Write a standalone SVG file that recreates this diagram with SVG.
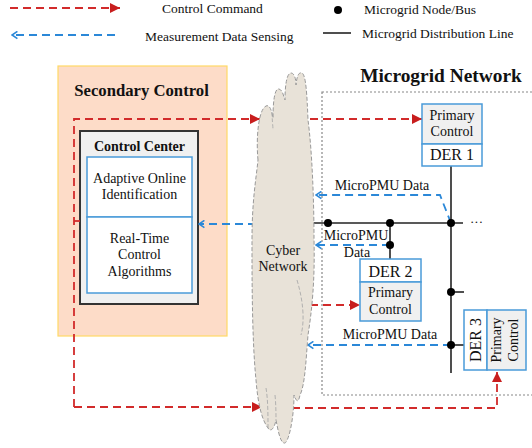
<svg xmlns="http://www.w3.org/2000/svg" width="532" height="448" viewBox="0 0 532 448">
  <style>
    text { font-family: "Liberation Serif", "DejaVu Serif", serif; fill: #111; }
    .b { font-weight: bold; }
    .ctl { fill: none; stroke: #D22B2B; stroke-width: 1.8; stroke-dasharray: 8 5; }
    .meas { fill: none; stroke: #2B88D8; stroke-width: 1.8; stroke-dasharray: 8 5; }
    .bus { fill: none; stroke: #222; stroke-width: 1.6; }
    .node { fill: #000; }
    .blu { stroke: #4A9BD9; stroke-width: 1.5; }
  </style>
  <defs>
    <marker id="redHead" viewBox="0 0 10 10" refX="10" refY="5" markerWidth="10" markerHeight="10" markerUnits="userSpaceOnUse" orient="auto">
      <path d="M0,0 L10,5 L0,10 Z" fill="#C81E1E"/>
    </marker>
    <marker id="blueHead" viewBox="0 0 10 10" refX="9" refY="5" markerWidth="9" markerHeight="9" markerUnits="userSpaceOnUse" orient="auto">
      <path d="M3,1 L9,5 L3,9" fill="none" stroke="#2B88D8" stroke-width="1.8"/>
    </marker>
  </defs>

  <!-- legend -->
  <g id="legend">
    <line class="ctl" x1="10" y1="8" x2="120" y2="8" marker-end="url(#redHead)"/>
    <text x="162" y="13" font-size="13.5">Control Command</text>
    <line class="meas" x1="115" y1="35" x2="12" y2="35" marker-end="url(#blueHead)"/>
    <text x="145" y="41" font-size="13.5">Measurement Data Sensing</text>
    <circle class="node" cx="338" cy="10" r="4"/>
    <text x="364" y="14" font-size="13.5">Microgrid Node/Bus</text>
    <line class="bus" x1="323" y1="33" x2="351" y2="33"/>
    <text x="362" y="38" font-size="13.5">Microgrid Distribution Line</text>
  </g>

  <!-- secondary control area -->
  <g id="secondary-control">
    <rect x="58" y="66" width="169" height="270" fill="#FDDCC8" stroke="#FFD966" stroke-width="1.2"/>
    <text class="b" x="141.5" y="96" font-size="16.7" text-anchor="middle">Secondary Control</text>
  </g>

  <g id="control-center">
    <rect x="80" y="131" width="118" height="173" fill="#F0F0F0" stroke="#333" stroke-width="2"/>
    <text class="b" x="139.5" y="151" font-size="14" text-anchor="middle">Control Center</text>
  </g>
  <g id="identification">
    <rect x="87" y="157" width="105" height="60" fill="#fff" class="blu"/>
    <text x="139.5" y="183" font-size="14" text-anchor="middle">Adaptive Online</text>
    <text x="139.5" y="199" font-size="14" text-anchor="middle">Identification</text>
  </g>
  <g id="algorithms">
    <rect x="87" y="217" width="105" height="76" fill="#fff" class="blu"/>
    <text x="139.5" y="243" font-size="14" text-anchor="middle">Real-Time</text>
    <text x="139.5" y="259" font-size="14" text-anchor="middle">Control</text>
    <text x="139.5" y="276" font-size="14" text-anchor="middle">Algorithms</text>
  </g>

  <!-- microgrid region -->
  <g id="microgrid-network">
    <rect x="322" y="92" width="230" height="303" fill="none" stroke="#888" stroke-width="1.2" stroke-dasharray="2 2"/>
    <text class="b" x="441" y="82" font-size="19.4" text-anchor="middle">Microgrid Network</text>
  </g>

  <!-- connectors -->
  <g id="connectors">
    <!-- control commands -->
    <path class="ctl" d="M74,221 H80"/>
    <path class="ctl" d="M74,407 V119 H260" marker-end="url(#redHead)"/>
    <path class="ctl" d="M74,407 H262" marker-end="url(#redHead)"/>
    <path class="ctl" d="M310,119 H422" marker-end="url(#redHead)"/>
    <path class="ctl" d="M310,305 H360" marker-end="url(#redHead)"/>
    <path class="ctl" d="M292,408 H497 V372" marker-end="url(#redHead)"/>
    <!-- measurements -->
    <path class="meas" d="M256,224 H199" marker-end="url(#blueHead)"/>
    <path class="meas" d="M451,223 L440,195 H316" marker-end="url(#blueHead)"/>
    <path class="meas" d="M390,245 H316" marker-end="url(#blueHead)"/>
    <path class="meas" d="M451,345 H308" marker-end="url(#blueHead)"/>
    <!-- distribution lines -->
    <path class="bus" d="M313,223 H463"/>
    <path class="bus" d="M451,166 V373"/>
    <path class="bus" d="M390,223 V259"/>
    <path class="bus" d="M451,292 H464"/>
    <path class="bus" d="M451,345 H464"/>
  </g>

  <!-- cyber network cloud -->
  <g id="cyber-network">
    <path d="M258,160 C256,140 258,110 266,106 C270,104 272,112 273,118 C273,95 276,88 279,89 C283,90 284,98 285,100 C285,80 288,73 291,73 C294,73 296,78 296,85 C297,75 299,72 302,73 C306,75 307,95 308,120 C312,150 314,200 314,240 C315,280 312,310 308,335 C306,360 305,385 300,395 C298,405 296,400 294,395 C294,420 288,445 284,443 C280,442 278,430 276,420 C274,430 270,432 268,428 C262,420 258,405 256,380 C252,340 252,280 252,240 C252,200 256,180 258,160 Z" fill="#E8E2D8" stroke="#999" stroke-width="1" stroke-dasharray="4 2"/>
    <path d="M272,112 C272,120 273,126 273,130 M297,280 C303,300 305,320 301,335 M266,388 C268,400 268,415 268,428 M275,395 C276,405 276,415 276,420" fill="none" stroke="#aaa" stroke-width="0.9" stroke-dasharray="4 2"/>
    <text x="283" y="255" font-size="14" text-anchor="middle">Cyber</text>
    <text x="283" y="271" font-size="14" text-anchor="middle">Network</text>
  </g>

  <!-- bus nodes -->
  <g id="nodes">
    <circle class="node" cx="328" cy="223" r="4"/>
    <circle class="node" cx="390" cy="223" r="4"/>
    <circle class="node" cx="451" cy="223" r="4"/>
    <circle class="node" cx="390" cy="245" r="4"/>
    <circle class="node" cx="451" cy="292" r="4"/>
    <circle class="node" cx="451" cy="345" r="4"/>
    <text x="470" y="226" font-size="13">···</text>
  </g>

  <!-- connector labels -->
  <g id="labels">
    <text x="382" y="190" font-size="14" text-anchor="middle">MicroPMU Data</text>
    <text x="356" y="240" font-size="14" text-anchor="middle">MicroPMU</text>
    <text x="357" y="257" font-size="14" text-anchor="middle">Data</text>
    <text x="390" y="339" font-size="14" text-anchor="middle">MicroPMU Data</text>
  </g>

  <!-- distributed energy resources -->
  <g id="der1">
    <rect x="422" y="104" width="60" height="40" fill="#F0F0F0" class="blu"/>
    <rect x="422" y="144" width="60" height="22" fill="#fff" class="blu"/>
    <text x="452" y="120" font-size="14" text-anchor="middle">Primary</text>
    <text x="452" y="136" font-size="14" text-anchor="middle">Control</text>
    <text x="452" y="160" font-size="16" text-anchor="middle">DER 1</text>
  </g>
  <g id="der2">
    <rect x="360" y="259" width="61" height="23" fill="#fff" class="blu"/>
    <rect x="360" y="282" width="61" height="39" fill="#F0F0F0" class="blu"/>
    <text x="390.5" y="277" font-size="16" text-anchor="middle">DER 2</text>
    <text x="390.5" y="297" font-size="14" text-anchor="middle">Primary</text>
    <text x="390.5" y="314" font-size="14" text-anchor="middle">Control</text>
  </g>
  <g id="der3">
    <rect x="464" y="310" width="23" height="60" fill="#fff" class="blu"/>
    <rect x="487" y="310" width="39" height="60" fill="#F0F0F0" class="blu"/>
    <text transform="translate(481,340) rotate(-90)" font-size="16" text-anchor="middle">DER 3</text>
    <text transform="translate(501,340) rotate(-90)" font-size="14" text-anchor="middle">Primary</text>
    <text transform="translate(518,340) rotate(-90)" font-size="14" text-anchor="middle">Control</text>
  </g>
</svg>
